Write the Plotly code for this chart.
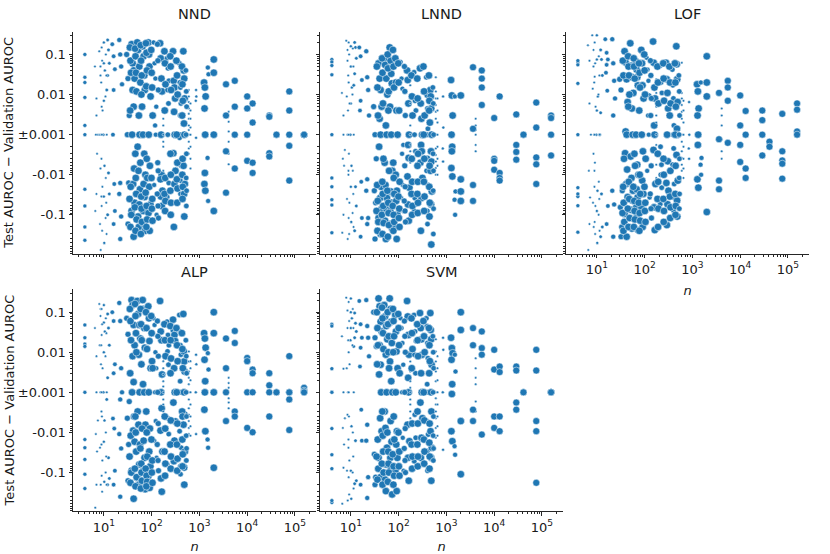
import numpy as np
import plotly.graph_objects as go

# dataset size n of every point (same datasets for all five detectors),
# one line per column of dots in the plot
n_values = [
    4, 4, 4, 4, 4, 4, 4, 4, 4, 4,
    6.5, 7, 7, 7.5, 6.8, 7.2, 7, 6.6,
    8, 8.5, 8.5, 9, 8.2, 8.7, 8.5, 8.9, 8.3, 8.6,
    10, 10, 10.5, 10, 9.8, 10.3, 10, 10.2,
    12, 12.5, 13, 12, 11.5, 12.5, 13, 12,
    15, 16, 17, 16, 15.5, 16.5, 17, 16,
    21, 22, 23, 24, 22, 21, 23, 22,
    30, 32, 34, 31, 33, 32,
    38, 40, 42, 44, 40, 42, 39, 43, 41, 44, 38, 42,
    50, 52, 55, 58, 54, 56, 51, 53, 57, 55, 52, 54,
    65, 68, 70, 72, 66, 70, 74, 68, 71, 67, 69, 73,
    85, 88, 90, 95, 87, 92, 89, 94, 86, 91,
    110, 115, 120, 125, 118, 122, 113, 127,
    150, 155, 160, 165, 158, 162, 153, 168, 157, 163,
    175, 175, 175, 175, 175, 175, 175, 175, 175, 175,
    210, 220, 230, 215, 225, 218, 228, 212,
    280, 290, 300, 310, 295, 305, 285, 315, 300, 292,
    380, 390, 400, 410, 395, 405, 385, 415, 398, 402,
    460, 470, 480, 490, 475, 485, 465, 495, 478, 482,
    600, 600, 600, 600, 600, 600, 600, 600, 600, 600, 600, 600,
    850, 860, 840, 850,
    1250, 1300, 1350, 1280, 1320, 1300, 1270, 1330,
    1500, 1550, 1480, 1520,
    2000, 2000, 2000, 2000,
    4100, 4100, 4100, 4100, 4100, 4100,
    3600, 3600, 3600, 3600,
    5500, 5500, 5500, 5500,
    10000, 10000, 10000, 10000,
    13000, 13000, 13000, 13000,
    29000, 29000, 29000, 29000,
    41000, 41000,
    76000, 76000, 76000, 76000, 76000,
    155000, 155000, 155000, 155000,
    9, 9.2, 8.8, 9.4, 9, 9.1, 8.9, 9.3, 9, 9.2,
    11, 11.3, 10.8, 11.5, 11, 11.2, 10.9, 11.4,
    35, 36, 37, 35.5, 36.5, 34.5, 37.5, 36,
    45, 46, 47, 48, 45.5, 46.5, 47.5, 44.5, 48.5, 46,
    59, 60, 62, 61, 63, 58, 60.5, 61.5, 62.5, 59.5,
    76, 78, 80, 77, 79, 81, 75, 78.5, 80.5, 77.5,
    98, 100, 102, 105, 99, 103, 101, 104,
    132, 135, 138, 134, 137, 131, 136, 139,
    185, 190, 195, 188, 192, 186, 194, 191,
    245, 250, 255, 248, 252, 246, 254, 251,
    330, 340, 350, 335, 345, 338, 348, 342,
    430, 440, 450, 435, 445, 438, 448, 442,
    520, 530, 540, 525, 535, 528, 538, 532,
    650, 650, 650, 650, 650, 650, 650, 650,
]

# marker diameter (px) of every point
marker_px = [
    4, 4, 4, 4, 4, 4, 4, 4, 4, 4,
    2.5, 2.5, 2.5, 2.5, 2.5, 2.5, 2.5, 2.5,
    2.5, 2.5, 2.5, 2.5, 2.5, 2.5, 2.5, 2.5, 2.5, 2.5,
    3, 3, 3, 3, 3, 3, 3, 3,
    3.5, 3.5, 3.5, 3.5, 3.5, 3.5, 3.5, 3.5,
    4.5, 4.5, 4.5, 4.5, 4.5, 4.5, 4.5, 4.5,
    5, 5, 5, 5, 5, 5, 5, 5,
    6, 6, 6, 6, 6, 6,
    7.5, 7.5, 7.5, 7.5, 7.5, 7.5, 7.5, 7.5, 7.5, 7.5, 7.5, 7.5,
    7.5, 7.5, 7.5, 7.5, 7.5, 7.5, 7.5, 7.5, 7.5, 7.5, 7.5, 7.5,
    7.5, 7.5, 7.5, 7.5, 7.5, 7.5, 7.5, 7.5, 7.5, 7.5, 7.5, 7.5,
    7.5, 7.5, 7.5, 7.5, 7.5, 7.5, 7.5, 7.5, 7.5, 7.5,
    5, 5, 5, 5, 5, 5, 5, 5,
    7.5, 7.5, 7.5, 7.5, 7.5, 7.5, 7.5, 7.5, 7.5, 7.5,
    2.5, 2.5, 2.5, 2.5, 2.5, 2.5, 2.5, 2.5, 2.5, 2.5,
    5.5, 5.5, 5.5, 5.5, 5.5, 5.5, 5.5, 5.5,
    7.5, 7.5, 7.5, 7.5, 7.5, 7.5, 7.5, 7.5, 7.5, 7.5,
    5.5, 5.5, 5.5, 5.5, 5.5, 5.5, 5.5, 5.5, 5.5, 5.5,
    7.5, 7.5, 7.5, 7.5, 7.5, 7.5, 7.5, 7.5, 7.5, 7.5,
    2.5, 2.5, 2.5, 2.5, 2.5, 2.5, 2.5, 2.5, 2.5, 2.5, 2.5, 2.5,
    3, 3, 3, 3,
    7.5, 7.5, 7.5, 7.5, 7.5, 7.5, 7.5, 7.5,
    5, 5, 5, 5,
    7.5, 7.5, 7.5, 7.5,
    2.5, 2.5, 2.5, 2.5, 2.5, 2.5,
    7, 7, 7, 7,
    7, 7, 7, 7,
    7, 7, 7, 7,
    7, 7, 7, 7,
    7, 7, 7, 7,
    7, 7,
    7, 7, 7, 7, 7,
    7, 7, 7, 7,
    2.5, 2.5, 2.5, 2.5, 2.5, 2.5, 2.5, 2.5, 2.5, 2.5,
    2.5, 2.5, 2.5, 2.5, 2.5, 2.5, 2.5, 2.5,
    7.5, 7.5, 7.5, 7.5, 7.5, 7.5, 7.5, 7.5,
    7.5, 7.5, 7.5, 7.5, 7.5, 7.5, 7.5, 7.5, 7.5, 7.5,
    7.5, 7.5, 7.5, 7.5, 7.5, 7.5, 7.5, 7.5, 7.5, 7.5,
    7.5, 7.5, 7.5, 7.5, 7.5, 7.5, 7.5, 7.5, 7.5, 7.5,
    7.5, 7.5, 7.5, 7.5, 7.5, 7.5, 7.5, 7.5,
    6, 6, 6, 6, 6, 6, 6, 6,
    7.5, 7.5, 7.5, 7.5, 7.5, 7.5, 7.5, 7.5,
    7.5, 7.5, 7.5, 7.5, 7.5, 7.5, 7.5, 7.5,
    7.5, 7.5, 7.5, 7.5, 7.5, 7.5, 7.5, 7.5,
    7.5, 7.5, 7.5, 7.5, 7.5, 7.5, 7.5, 7.5,
    5.5, 5.5, 5.5, 5.5, 5.5, 5.5, 5.5, 5.5,
    2.5, 2.5, 2.5, 2.5, 2.5, 2.5, 2.5, 2.5,
]

# test AUROC - validation AUROC per detector
nnd_diff = [
    0.1, 0.027, 0.02, 0.0085, 0.0017, 0, -0.023, -0.06, -0.2, -0.43,
    0.05, 0.008, 0.003, 0, 0, -0.003, -0.03, -0.08,
    0.12, 0.05, 0.03, 0.005, 0, 0, -0.007, -0.035, -0.17, -0.75,
    0.2, 0.06, 0.04, 0.007, 0, -0.006, -0.035, -0.5,
    0.23, 0.13, 0.06, 0.03, 0.013, -0.009, -0.03, -0.1,
    0.18, 0.09, 0.043, 0.013, 0, -0.017, -0.08, -0.17,
    0.23, 0.1, 0.05, 0.018, -0.016, -0.03, -0.11, -0.4,
    0.1, 0.025, 0.003, 0, -0.016, -0.17,
    0.18, 0.06, 0.04, 0.025, 0.013, 0.005, 0, -0.007, -0.017, -0.05, -0.08, -0.35,
    0.2, 0.13, 0.05, 0.02, 0.003, 0, -0.002, -0.008, -0.023, -0.055, -0.11, -0.2,
    0.16, 0.09, 0.03, 0.013, 0, -0.003, -0.01, -0.017, -0.036, -0.08, -0.17, -0.25,
    0.2, 0.1, 0.05, 0.009, 0, -0.006, -0.02, -0.055, -0.09, -0.25,
    0.2, 0.06, 0.025, 0.005, 0.0017, 0, -0.018, -0.1,
    0.19, 0.08, 0.025, 0.012, 0, -0.01, -0.013, -0.025, -0.035, -0.06,
    0.02, 0.0045, 0.0035, 0.0025, 0.0017, 0, -0.0015, -0.002, -0.008, -0.012,
    0.08, 0.045, 0.022, 0.013, 0.006, 0, -0.016, -0.036,
    0.12, 0.022, 0.015, 0.008, 0.0037, 0, -0.0029, -0.008, -0.017, -0.2,
    0.06, 0.02, 0.015, 0.006, 0.003, 0, -0.0012, -0.006, -0.014, -0.03,
    0.12, 0.04, 0.025, 0.008, 0.0019, 0, -0.006, -0.017, -0.03, -0.11,
    0.013, 0.009, 0.0065, 0.0045, 0.0033, 0.0025, 0.0017, 0.0013, 0, -0.0015, -0.0022, -0.003,
    0.013, 0.009, 0.007, -0.0012,
    0.02, 0.015, 0.009, 0.0045, 0, -0.009, -0.017, -0.025,
    0.047, 0.032, -0.0038, -0.045,
    0.075, 0.035, 0, -0.08,
    0.0037, 0.0021, 0.0012, -0.0015, -0.003, -0.0055,
    0.018, 0.003, -0.0026, -0.028,
    0.022, 0.005, 0, -0.007,
    0.009, 0.0045, 0, -0.0045,
    0.006, 0.002, -0.005, -0.009,
    0.003, 0.0028, -0.0029, -0.0035,
    0, 0,
    0.012, 0.004, 0, -0.0019, -0.014,
    0, 0, 0, 0,
    0.15, 0.07, 0.02, 0.004, 0, 0, -0.004, -0.02, -0.06, -0.25,
    0.1, 0.03, 0.009, 0, -0.012, -0.05, -0.12, -0.3,
    0.15, 0.07, 0.035, 0.004, -0.02, -0.04, -0.1, -0.2,
    0.14, 0.09, 0.035, 0.012, -0.003, -0.012, -0.03, -0.065, -0.13, -0.25,
    0.17, 0.07, 0.03, 0.01, 0.005, -0.005, -0.035, -0.07, -0.15, -0.3,
    0.19, 0.11, 0.04, 0.016, -0.004, -0.012, -0.028, -0.06, -0.13, -0.2,
    0.13, 0.035, 0.015, 0.003, -0.012, -0.04, -0.07, -0.14,
    0.18, 0.07, 0.013, -0.005, -0.008, -0.03, -0.06, -0.12,
    0.12, 0.06, 0.018, 0.004, -0.012, -0.03, -0.045, -0.08,
    0.09, 0.05, 0.013, -0.003, -0.01, -0.025, -0.05, -0.1,
    0.07, 0.03, 0.01, 0, -0.005, -0.013, -0.022, -0.05,
    0.05, 0.018, 0.007, 0.003, -0.004, -0.01, -0.02, -0.04,
    0.04, 0.012, 0.005, 0, -0.003, -0.012, -0.025, -0.06,
    0.006, 0.004, 0.0025, 0.0015, 0, -0.002, -0.004, -0.007,
]

lnnd_diff = [
    0.075, 0.065, 0.053, 0.031, 0, -0.012, -0.02, -0.042, -0.057, -0.28,
    0.011, 0.003, 0, -0.0024, -0.004, -0.006, -0.1, -0.28,
    0.22, 0.13, 0.07, 0.02, 0.009, 0.004, 0, -0.008, -0.04, -0.4,
    0.16, 0.05, 0.015, 0.006, 0, -0.006, -0.02, -0.15,
    0.2, 0.15, 0.08, 0.033, 0.017, -0.02, -0.06, -0.25,
    0.15, 0.09, 0.023, 0.007, 0.004, -0.015, -0.12, -0.35,
    0.12, 0.027, 0.013, 0.003, -0.013, -0.025, -0.12, -0.17,
    0.005, 0, -0.004, -0.025, -0.05, -0.4,
    0.06, 0.025, 0.013, 0.005, 0.0025, 0, -0.002, -0.02, -0.038, -0.07, -0.12, -0.3,
    0.08, 0.055, 0.025, 0.01, 0.0017, 0, -0.005, -0.018, -0.038, -0.07, -0.14, -0.4,
    0.15, 0.07, 0.033, 0.019, 0.005, 0, -0.008, -0.026, -0.05, -0.08, -0.17, -0.22,
    0.08, 0.02, 0.004, 0, -0.01, -0.025, -0.045, -0.1, -0.2, -0.4,
    0.065, 0.025, 0.014, -0.0018, -0.003, -0.018, -0.038, -0.08,
    0.04, 0.023, 0.006, 0, -0.0018, -0.0038, -0.011, -0.021, -0.055, -0.14,
    0.017, 0.01, 0.006, 0.003, 0.0017, 0, -0.0018, -0.0026, -0.0038, -0.005,
    0.036, 0.007, 0.004, 0, -0.0026, -0.038, -0.055, -0.08,
    0.045, 0.006, 0.0025, 0, -0.0018, -0.0026, -0.005, -0.012, -0.038, -0.25,
    0.027, 0.0095, 0.0045, 0.0014, 0, -0.0038, -0.008, -0.018, -0.08, -0.17,
    0.013, 0.009, 0.0045, 0, -0.0026, -0.0047, -0.008, -0.026, -0.055, -0.55,
    0.027, 0.012, 0.008, 0.0055, 0.0037, 0.0025, 0, -0.0022, -0.0032, -0.0047, -0.0068, -0.01,
    0.009, 0.0015, -0.0022, -0.0047,
    0.023, 0.0095, 0.003, 0, -0.002, -0.0026, -0.0068, -0.011,
    0.009, -0.026, -0.042, -0.1,
    0.0095, -0.013, -0.026, -0.045,
    0.0025, 0.0017, 0.0013, 0, -0.0018, -0.0026,
    0.048, 0.0014, -0.018, -0.045,
    0.04, 0.025, 0.015, 0.0055,
    0.0026, -0.004, -0.0045, -0.0075,
    0.009, -0.009, -0.012, -0.014,
    0.0032, -0.0018, -0.0027, -0.0042,
    0, 0,
    0.0063, 0.0015, -0.0037, -0.0055, -0.017,
    0.003, 0.0026, 0, -0.0033,
    0.2, 0.1, 0.03, 0.006, 0, -0.003, -0.01, -0.05, -0.12, -0.3,
    0.14, 0.05, 0.01, 0, -0.008, -0.03, -0.09, -0.2,
    0.05, 0.015, 0.003, -0.018, -0.045, -0.08, -0.15, -0.25,
    0.08, 0.035, 0.006, -0.004, -0.015, -0.03, -0.06, -0.1, -0.16, -0.3,
    0.1, 0.045, 0.012, 0.004, -0.008, -0.025, -0.05, -0.09, -0.18, -0.35,
    0.13, 0.05, 0.015, -0.005, -0.012, -0.03, -0.06, -0.1, -0.15, -0.25,
    0.06, 0.02, 0.004, -0.015, -0.035, -0.07, -0.12, -0.2,
    0.05, 0.012, 0.003, -0.006, -0.02, -0.045, -0.08, -0.15,
    0.03, 0.009, 0.003, -0.004, -0.015, -0.03, -0.06, -0.1,
    0.025, 0.008, -0.003, -0.006, -0.015, -0.03, -0.05, -0.09,
    0.05, 0.012, 0.003, 0, -0.004, -0.015, -0.035, -0.08,
    0.03, 0.007, 0.002, 0.004, -0.006, -0.02, -0.05, -0.11,
    0.015, 0.006, 0, -0.003, -0.008, -0.025, -0.07, -0.3,
    0.008, 0.004, 0.002, 0, -0.002, -0.004, -0.006, -0.01,
]

lof_diff = [
    0.065, 0.055, 0.019, 0, -0.021, -0.035, -0.059, -0.27, 0.07, -0.03,
    0.17, 0.07, 0.006, 0, -0.008, -0.037, -0.17, -0.75,
    0.3, 0.13, 0.05, 0.028, 0.014, 0, -0.003, -0.008, -0.05, -0.2,
    0.3, 0.075, 0.009, 0.004, 0, -0.025, -0.08, -0.5,
    0.13, 0.075, 0.03, 0.0035, 0, -0.03, -0.2, -0.35,
    0.24, 0.11, 0.075, 0.055, 0.035, 0.0125, -0.06, -0.17,
    0.24, 0.06, 0.022, 0.008, 0.003, -0.025, -0.055, -0.35,
    0.024, 0.013, -0.025, -0.065, -0.2, -0.35,
    0.12, 0.063, 0.024, 0.0065, 0.0012, 0, -0.0029, -0.0074, -0.017, -0.036, -0.095, -0.35,
    0.19, 0.052, 0.027, 0.011, 0.0045, 0, -0.0035, -0.012, -0.025, -0.044, -0.075, -0.22,
    0.068, 0.042, 0.027, 0.017, 0, -0.0056, -0.01, -0.023, -0.037, -0.065, -0.11, -0.24,
    0.13, 0.06, 0.017, 0.008, 0, -0.0026, -0.014, -0.03, -0.065, -0.2,
    0.083, 0.042, 0.022, 0.0095, 0.003, 0, -0.008, -0.037,
    0.21, 0.062, 0.015, 0.008, 0.0017, 0, -0.0024, -0.017, -0.065, -0.24,
    0.024, 0.011, 0.005, 0.003, 0.002, 0, -0.0018, -0.003, -0.0056, -0.012,
    0.052, 0.02, 0.011, -0.002, -0.0056, -0.01, -0.021, -0.054,
    0.062, 0.024, 0.011, 0.0045, 0, -0.0046, -0.016, -0.025, -0.054, -0.18,
    0.042, 0.017, 0.008, 0.0017, 0, -0.0022, -0.0056, -0.017, -0.037, -0.078,
    0.16, 0.057, 0.024, 0.0065, 0.0014, 0, -0.0032, -0.014, -0.044, -0.11,
    0.062, 0.011, 0.008, 0.0055, 0.0037, 0.0025, 0, -0.0015, -0.0026, -0.0038, -0.0056, -0.008,
    0.0065, 0, -0.0022, -0.004,
    0.018, 0.012, 0.0045, 0.003, 0, -0.0018, -0.013, -0.021,
    0.02, -0.0038, -0.0056, -0.01,
    0.09, 0.02, 0.009, -0.085,
    0.0045, 0.003, 0.0017, -0.0013, -0.0026, -0.004,
    0.011, -0.0013, -0.014, -0.023,
    0.022, 0.015, 0.007, -0.0016,
    0.0095, 0.0017, -0.0018, -0.0048,
    0.0039, 0, -0.007, -0.012,
    0.004, 0.0023, 0, -0.0033,
    -0.0015, -0.002,
    0.0033, -0.0026, -0.0044, -0.0053, -0.0125,
    0.006, 0.0042, 0.0012, 0,
    0.2, 0.06, 0.02, 0.005, 0, -0.005, -0.02, -0.06, -0.15, -0.3,
    0.09, 0.03, 0.01, 0, -0.015, -0.04, -0.1, -0.25,
    0.07, 0.03, -0.004, -0.02, -0.05, -0.09, -0.15, -0.25,
    0.09, 0.05, 0.03, 0.01, 0.005, -0.015, -0.04, -0.07, -0.12, -0.2,
    0.08, 0.05, 0.025, -0.003, -0.006, -0.02, -0.045, -0.08, -0.13, -0.2,
    0.06, 0.035, 0.015, 0.004, -0.01, -0.03, -0.05, -0.09, -0.14, -0.25,
    0.1, 0.04, 0.01, -0.004, -0.02, -0.05, -0.08, -0.15,
    0.07, 0.03, 0.008, 0.003, -0.006, -0.03, -0.07, -0.12,
    0.05, 0.02, 0.006, -0.003, -0.015, -0.04, -0.07, -0.2,
    0.06, 0.025, 0.007, -0.004, -0.01, -0.04, -0.08, -0.15,
    0.05, 0.02, 0.006, 0.003, -0.008, -0.035, -0.065, -0.12,
    0.06, 0.02, 0.005, 0, -0.006, -0.03, -0.06, -0.1,
    0.03, 0.012, 0.003, 0, -0.004, -0.012, -0.03, -0.07,
    0.007, 0.004, 0.002, 0, -0.002, -0.004, -0.007, -0.012,
]

alp_diff = [
    0.048, 0.023, 0.016, 0.014, 0, -0.015, -0.024, -0.047, -0.11, -0.25,
    0.04, 0.008, 0, -0.005, -0.011, -0.03, -0.2, -0.75,
    0.16, 0.12, 0.08, 0.027, 0.015, 0.005, 0, -0.003, -0.024, -0.2,
    0.15, 0.055, 0.033, 0.01, 0, -0.005, -0.017, -0.17,
    0.09, 0.04, 0.015, 0.0023, -0.0015, -0.043, -0.14, -0.2,
    0.1, 0.06, 0.005, 0.003, -0.0045, -0.008, -0.09, -0.2,
    0.17, 0.06, 0.004, 0, -0.0015, -0.011, -0.025, -0.4,
    0.07, 0.028, -0.0017, -0.0044, -0.02, -0.16,
    0.2, 0.15, 0.048, 0.015, 0.008, 0.0018, 0, -0.004, -0.009, -0.017, -0.09, -0.45,
    0.19, 0.09, 0.048, 0.022, 0.0087, 0, -0.003, -0.0064, -0.02, -0.063, -0.14, -0.2,
    0.2, 0.12, 0.04, 0.013, 0.0016, 0, -0.0064, -0.016, -0.043, -0.09, -0.16, -0.26,
    0.14, 0.07, 0.019, 0.004, 0, -0.008, -0.03, -0.07, -0.12, -0.24,
    0.07, 0.048, 0.01, 0.004, 0, -0.0052, -0.016, -0.043,
    0.19, 0.033, 0.02, 0.0028, 0, -0.0025, -0.009, -0.03, -0.14, -0.3,
    0.006, 0.004, 0.0028, 0.0019, 0.0014, 0, -0.0015, -0.002, -0.003, -0.004,
    0.058, 0.027, 0.015, 0.0105, 0.0049, -0.0044, -0.011, -0.063,
    0.065, 0.036, 0.027, 0.019, 0.004, 0, -0.0018, -0.0053, -0.016, -0.052,
    0.085, 0.033, 0.015, 0.0087, 0.0019, 0, -0.0093, -0.024, -0.07, -0.11,
    0.09, 0.0105, 0.0059, 0.0033, 0, -0.0036, -0.0064, -0.03, -0.075, -0.2,
    0.0105, 0.0059, 0.0033, 0.0023, 0.0016, 0, -0.0015, -0.0025, -0.0036, -0.0052, -0.0077, -0.011,
    0.0087, 0.005, 0, -0.011,
    0.03, 0.022, 0.013, 0.0065, 0.0019, 0, -0.0027, -0.0093,
    0.0095, 0.0037, -0.015, -0.024,
    0.1, 0.03, 0, -0.076,
    0.0023, 0.0017, 0.0013, -0.0014, -0.0018, -0.0025,
    0.022, 0.004, 0, -0.0052,
    0.034, 0.017, -0.003, -0.004,
    0.0072, 0.006, 0, -0.0077,
    0.0037, 0.003, 0, -0.0099,
    0.003, 0.0015, 0, -0.004,
    0, 0,
    0.008, 0, -0.0015, -0.0087, 0,
    0.0013, 0.0011, 0, 0,
    0.12, 0.05, 0.015, 0.004, 0, -0.004, -0.02, -0.05, -0.12, -0.3,
    0.07, 0.03, 0.008, 0, -0.01, -0.04, -0.1, -0.2,
    0.12, 0.06, 0.02, 0.003, -0.012, -0.04, -0.1, -0.18,
    0.16, 0.08, 0.03, 0.01, -0.004, -0.01, -0.03, -0.08, -0.13, -0.22,
    0.12, 0.05, 0.02, 0.005, -0.008, -0.025, -0.06, -0.1, -0.16, -0.25,
    0.1, 0.04, 0.012, -0.003, -0.01, -0.04, -0.08, -0.12, -0.17, -0.22,
    0.08, 0.03, 0.006, 0.004, -0.015, -0.05, -0.1, -0.18,
    0.06, 0.025, 0.008, 0, -0.006, -0.02, -0.05, -0.09,
    0.05, 0.02, 0.008, -0.004, -0.008, -0.03, -0.06, -0.12,
    0.045, 0.02, 0.007, 0.003, -0.005, -0.02, -0.04, -0.08,
    0.04, 0.015, 0.006, 0, -0.006, -0.02, -0.045, -0.09,
    0.03, 0.012, 0.004, -0.003, -0.004, -0.015, -0.035, -0.07,
    0.02, 0.008, 0.003, 0, -0.004, -0.012, -0.025, -0.05,
    0.006, 0.004, 0.002, 0, -0.002, -0.004, -0.007, -0.012,
]

svm_diff = [
    0.05, 0.045, 0.0039, 0, 0, -0.008, -0.036, -0.08, -0.56, -0.5,
    0.025, 0.0039, 0, -0.0044, -0.0077, -0.02, -0.076, -0.6,
    0.23, 0.11, 0.04, 0.01, 0.004, 0, -0.0036, -0.024, -0.09, -0.5,
    0.22, 0.1, 0.07, 0.04, 0.02, -0.007, -0.09, -0.45,
    0.095, 0.053, 0.033, 0.023, 0.014, -0.016, -0.16, -0.19,
    0.19, 0.05, 0.023, 0.013, 0.0044, -0.0027, -0.016, -0.2,
    0.2, 0.045, 0.023, 0.0079, -0.0064, -0.016, -0.13, -0.43,
    0.1, 0.023, 0.014, -0.035, -0.13, -0.2,
    0.22, 0.14, 0.058, 0.033, 0.015, 0.0049, 0.0028, 0, -0.0044, -0.0093, -0.043, -0.13,
    0.15, 0.078, 0.045, 0.021, 0.0087, 0, -0.003, -0.0077, -0.024, -0.063, -0.15, -0.29,
    0.22, 0.12, 0.058, 0.017, 0.0059, 0.0019, 0, -0.0052, -0.017, -0.043, -0.076, -0.35,
    0.085, 0.033, 0.0105, 0.004, 0, -0.0093, -0.02, -0.043, -0.09, -0.29,
    0.07, 0.04, 0.017, 0.0049, 0, -0.0136, -0.029, -0.09,
    0.19, 0.078, 0.027, 0.0087, 0.0023, 0, -0.0064, -0.0165, -0.043, -0.16,
    0.0105, 0.0059, 0.0033, 0.0019, 0.0013, 0, -0.0015, -0.002, -0.003, -0.0044,
    0.085, 0.033, 0.019, 0.0087, 0.003, -0.0036, -0.0136, -0.052,
    0.095, 0.04, 0.021, 0.0087, 0.003, 0, -0.0018, -0.0044, -0.0136, -0.043,
    0.07, 0.045, 0.017, 0.0071, 0.0016, 0, -0.0052, -0.0113, -0.029, -0.09,
    0.095, 0.036, 0.021, 0.0049, 0, -0.003, -0.0093, -0.024, -0.043, -0.16,
    0.021, 0.0105, 0.0059, 0.0033, 0.0019, 0, -0.0014, -0.002, -0.003, -0.0044, -0.0077, -0.0136,
    0.023, 0.0115, 0, -0.027,
    0.023, 0.0127, 0.0095, 0.0065, 0.0016, -0.0011, -0.0093, -0.0165,
    0.0087, 0.0033, -0.022, -0.036,
    0.1, 0.036, -0.0052, -0.11,
    0.0071, 0.004, 0.0023, 0.0016, -0.0017, -0.003,
    0.04, 0.015, -0.0027, -0.0052,
    0.033, 0.0127, 0.0087, -0.0113,
    0.0115, 0.0037, -0.004, -0.0077,
    0.0044, 0.0032, -0.004, -0.0093,
    0.0044, 0.0035, -0.0018, -0.0027,
    0, 0,
    0.0115, 0.0035, -0.0052, -0.0093, -0.18,
    0, 0, 0, 0,
    0.18, 0.06, 0.02, 0.005, 0, -0.004, -0.015, -0.05, -0.13, -0.35,
    0.12, 0.04, 0.015, 0, -0.01, -0.04, -0.1, -0.25,
    0.1, 0.04, 0.015, 0.005, -0.015, -0.04, -0.08, -0.15,
    0.13, 0.07, 0.03, 0.012, -0.003, -0.012, -0.03, -0.06, -0.1, -0.2,
    0.1, 0.05, 0.025, 0.01, 0.004, -0.01, -0.03, -0.06, -0.1, -0.17,
    0.12, 0.06, 0.025, 0.01, -0.004, -0.015, -0.035, -0.07, -0.12, -0.2,
    0.09, 0.04, 0.015, 0.003, -0.01, -0.03, -0.07, -0.12,
    0.06, 0.025, 0.01, 0, -0.008, -0.025, -0.05, -0.1,
    0.07, 0.03, 0.012, 0.004, -0.006, -0.02, -0.04, -0.08,
    0.05, 0.02, 0.008, -0.003, -0.006, -0.02, -0.04, -0.07,
    0.06, 0.025, 0.01, 0, -0.005, -0.015, -0.03, -0.06,
    0.04, 0.015, 0.006, 0.003, -0.006, -0.018, -0.04, -0.08,
    0.025, 0.01, 0.004, 0, -0.004, -0.012, -0.025, -0.05,
    0.008, 0.004, 0.002, 0, -0.002, -0.004, -0.007, -0.012,
]

method_names = ["NND", "LNND", "LOF", "ALP", "SVM"]
method_diffs = [nnd_diff, lnnd_diff, lof_diff, alp_diff, svm_diff]

y_tick_values = [-0.1, -0.01, 0, 0.01, 0.1]
y_tick_text = ["-0.1", "-0.01", "\u00b10.001", "0.01", "0.1"]

LINTHRESH = 0.001


def symlog(d):
    # differences smaller than 0.001 collapse onto the middle line
    d = np.asarray(d, dtype=float)
    return np.sign(d) * np.log10(np.maximum(np.abs(d), LINTHRESH) / LINTHRESH)


def main():
    W, H = 830, 554
    # pixel boxes of the five axes: (left, right, top, bottom)
    boxes = [(73, 316, 32, 257), (320, 563, 32, 257), (566, 809, 32, 257),
             (73, 316, 293, 518), (320, 563, 293, 518)]
    show_x_labels = [False, False, True, True, True]
    show_y_labels = [True, False, False, True, False]

    minor_y = []
    for e in [-3, -2, -1]:
        for k in range(2, 10):
            v = k * 10.0 ** e
            minor_y += [float(symlog(v)), float(symlog(-v))]
    minor_x = [k * 10.0 ** e for e in range(0, 6) for k in range(2, 10)]

    font = "DejaVu Sans"
    axis_color = "#262626"
    fig = go.Figure()
    annotations = []
    for i, (name, diff) in enumerate(zip(method_names, method_diffs)):
        assert len(diff) == len(n_values) == len(marker_px)
        sfx = "" if i == 0 else str(i + 1)
        fig.add_trace(go.Scatter(
            x=n_values, y=symlog(diff), mode="markers",
            xaxis="x" + sfx, yaxis="y" + sfx, showlegend=False,
            marker=dict(size=marker_px, color="#1f77b4", opacity=1,
                        line=dict(color="white", width=0.5)),
        ))
        l, r, t, b = boxes[i]
        fig.layout["xaxis" + sfx] = dict(
            type="log", domain=[l / W, r / W], range=[0.354, 5.44],
            anchor="y" + sfx, showgrid=False, zeroline=False,
            showline=True, linecolor=axis_color, linewidth=1,
            ticks="outside", ticklen=3.5, tickwidth=0.8, tickcolor=axis_color,
            tickmode="array", tickvals=[10, 100, 1000, 10000, 100000],
            ticktext=["10<sup>%d</sup>" % k for k in range(1, 6)],
            showticklabels=show_x_labels[i],
            tickfont=dict(family=font, size=13, color="#1a1a1a"),
            minor=dict(tickmode="array", tickvals=minor_x, ticks="outside",
                       ticklen=2, tickwidth=0.6, tickcolor=axis_color, showgrid=False),
            title=dict(text="<i>n</i>" if show_x_labels[i] else "",
                       font=dict(family=font, size=13, color="#1a1a1a"), standoff=10),
        )
        fig.layout["yaxis" + sfx] = dict(
            domain=[1 - b / H, 1 - t / H], range=[-2.97, 2.57],
            anchor="x" + sfx, showgrid=False, zeroline=False,
            showline=True, linecolor=axis_color, linewidth=1,
            ticks="outside", ticklen=3.5, tickwidth=0.8, tickcolor=axis_color,
            tickmode="array", tickvals=list(symlog(y_tick_values)), ticktext=y_tick_text,
            showticklabels=show_y_labels[i],
            tickfont=dict(family=font, size=13, color="#1a1a1a"),
            minor=dict(tickmode="array", tickvals=minor_y, ticks="outside",
                       ticklen=2, tickwidth=0.6, tickcolor=axis_color, showgrid=False),
        )
        annotations.append(dict(
            text=name, x=(l + r) / 2 / W, y=1 - (t - 18) / H,
            xref="paper", yref="paper", showarrow=False,
            xanchor="center", yanchor="middle",
            font=dict(family=font, size=14.5, color="#1a1a1a"),
        ))
        if show_y_labels[i]:
            annotations.append(dict(
                text="Test AUROC \u2212 Validation AUROC", textangle=-90,
                x=9 / W, y=1 - (t + b) / 2 / H, xref="paper", yref="paper",
                showarrow=False, xanchor="center", yanchor="middle",
                font=dict(family=font, size=13, color="#1a1a1a"),
            ))

    fig.update_layout(
        width=W, height=H, margin=dict(l=0, r=0, t=0, b=0),
        plot_bgcolor="white", paper_bgcolor="white",
        annotations=annotations,
    )
    # the page's default 8px body margin would shift the whole figure
    fig.write_html("out.html", config={"displayModeBar": False},
                   post_script="document.body.style.margin = '0';")


if __name__ == '__main__':
    main()
